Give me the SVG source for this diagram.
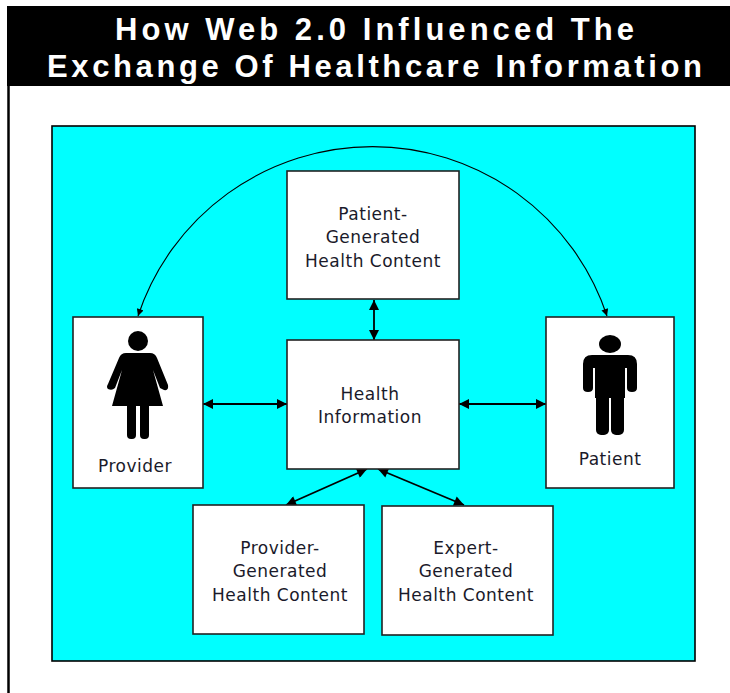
<svg xmlns="http://www.w3.org/2000/svg" width="730" height="693" viewBox="0 0 730 693">
<defs>
<style>
.box{fill:#ffffff;stroke:#222;stroke-width:1.6}
.lbl{font-family:"DejaVu Sans","Verdana",sans-serif;font-size:17px;letter-spacing:0.5px;fill:#1a1a2a;text-anchor:middle}
.ttl{font-family:"Liberation Sans","Arial",sans-serif;font-size:31px;font-weight:bold;fill:#ffffff;text-anchor:middle}
.conn{stroke:#000;stroke-width:1.8;fill:none}
.arc{stroke:#000;stroke-width:1.1;fill:none}
.fig{fill:#000}
</style>
<marker id="ah" viewBox="0 0 10 10" refX="10" refY="5" markerWidth="11" markerHeight="10" markerUnits="userSpaceOnUse" orient="auto-start-reverse">
<path d="M0,0 L10,5 L0,10 Z" fill="#000"/>
</marker>
<marker id="ahs" viewBox="0 0 10 10" refX="10" refY="5" markerWidth="8" markerHeight="7" markerUnits="userSpaceOnUse" orient="auto-start-reverse">
<path d="M0,0 L10,5 L0,10 Z" fill="#000"/>
</marker>
</defs>
<rect x="0" y="0" width="730" height="693" fill="#ffffff"/>
<g id="title">
<rect x="7" y="6" width="723" height="80" fill="#000"/>
<line x1="8.5" y1="86" x2="8.5" y2="693" stroke="#000" stroke-width="2.5"/>
<text class="ttl" x="374.5" y="40" textLength="519" lengthAdjust="spacing">How Web 2.0 Influenced The</text>
<text class="ttl" x="374.5" y="77" textLength="655" lengthAdjust="spacing">Exchange Of Healthcare Information</text>
</g>
<rect id="panel" x="52" y="126" width="643" height="535" fill="#00ffff" stroke="#000" stroke-width="1.6"/>
<g id="connectors">
<path class="arc" d="M138,316 A247,247 0 0 1 607,316" marker-start="url(#ahs)" marker-end="url(#ahs)"/>
<line class="conn" x1="374" y1="300" x2="374" y2="340" marker-start="url(#ah)" marker-end="url(#ah)"/>
<line class="conn" x1="203" y1="404" x2="287" y2="404" marker-start="url(#ah)" marker-end="url(#ah)"/>
<line class="conn" x1="459" y1="404" x2="546" y2="404" marker-start="url(#ah)" marker-end="url(#ah)"/>
<line class="conn" x1="367" y1="469" x2="286" y2="505" marker-start="url(#ah)" marker-end="url(#ah)"/>
<line class="conn" x1="378" y1="469" x2="464" y2="505" marker-start="url(#ah)" marker-end="url(#ah)"/>
</g>
<g id="patient-generated">
<rect class="box" x="287" y="171" width="172" height="128"/>
<text class="lbl" x="373" y="220">Patient-</text>
<text class="lbl" x="373" y="243">Generated</text>
<text class="lbl" x="373" y="267">Health Content</text>
</g>
<g id="health-information">
<rect class="box" x="287" y="340" width="172" height="129"/>
<text class="lbl" x="370" y="400">Health</text>
<text class="lbl" x="370" y="423">Information</text>
</g>
<g id="provider">
<rect class="box" x="73" y="317" width="130" height="171"/>
<circle class="fig" cx="138" cy="341" r="10"/>
<path class="fig" d="M126,353 L150,353 Q155,353 157,358 L168,385 Q169,391 164,390 L160,388 L153,370 L163,406 L112,406 L122,370 L115,388 Q112,391 108,389 Q106,387 108,384 L119,358 Q121,353 126,353 Z"/>
<rect class="fig" x="127" y="402" width="9" height="37" rx="4"/>
<rect class="fig" x="140" y="402" width="9" height="37" rx="4"/>
<text class="lbl" x="135" y="472">Provider</text>
</g>
<g id="patient">
<rect class="box" x="546" y="317" width="128" height="171"/>
<ellipse class="fig" cx="610" cy="344" rx="11" ry="9"/>
<path class="fig" d="M592,355 L628,355 Q637,355 637,364 L637,388 Q637,392 632,392 Q627,392 627,388 L627,368 L625,368 L625,398 L595,398 L595,368 L593,368 L593,388 Q593,392 588,392 Q583,392 583,388 L583,364 Q583,355 592,355 Z"/>
<rect class="fig" x="596" y="390" width="13" height="45" rx="5"/>
<rect class="fig" x="611" y="390" width="13" height="45" rx="5"/>
<text class="lbl" x="610" y="465">Patient</text>
</g>
<g id="provider-generated">
<rect class="box" x="193" y="505" width="171" height="129"/>
<text class="lbl" x="280" y="554">Provider-</text>
<text class="lbl" x="280" y="577">Generated</text>
<text class="lbl" x="280" y="601">Health Content</text>
</g>
<g id="expert-generated">
<rect class="box" x="382" y="506" width="171" height="129"/>
<text class="lbl" x="466" y="554">Expert-</text>
<text class="lbl" x="466" y="577">Generated</text>
<text class="lbl" x="466" y="601">Health Content</text>
</g>
</svg>
